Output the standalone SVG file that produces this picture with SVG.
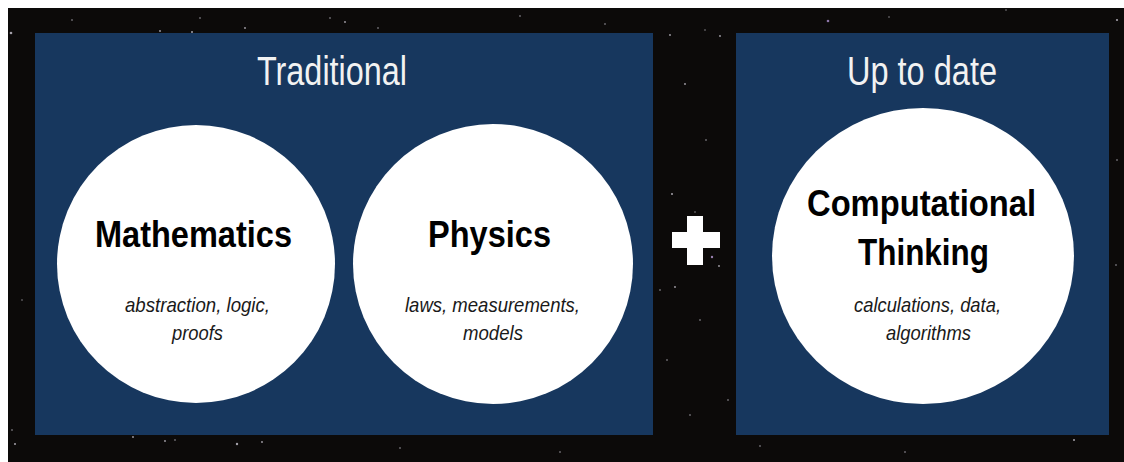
<svg xmlns="http://www.w3.org/2000/svg" width="1124" height="462" viewBox="0 0 1124 462">
  <style>
    .panel { fill: #17375e; }
    .circle { fill: #ffffff; }
    .head { font-family: "Liberation Sans", Arial, sans-serif; font-size: 40px; fill: #f2f2f2; text-anchor: middle; }
    .title { font-family: "Liberation Sans", Arial, sans-serif; font-size: 37px; font-weight: bold; fill: #000000; text-anchor: middle; }
    .sub { font-family: "Liberation Sans", Arial, sans-serif; font-size: 21px; font-style: italic; fill: #1a1a1a; text-anchor: middle; }
    .star { fill: #d8d4e0; }
  </style>
  <rect x="0" y="0" width="1124" height="462" fill="#ffffff"/>
  <rect x="8" y="8" width="1116" height="454" fill="#0c0a09"/>
  <g id="stars" opacity="0.75">
    <circle class="star" cx="11" cy="33" r="1.3"/>
    <circle class="star" cx="72" cy="20" r="0.8"/>
    <circle class="star" cx="160" cy="31" r="0.9"/>
    <circle class="star" cx="192" cy="32" r="1"/>
    <circle class="star" cx="200" cy="18" r="0.8"/>
    <circle class="star" cx="245" cy="28" r="0.9"/>
    <circle class="star" cx="330" cy="18" r="0.8"/>
    <circle class="star" cx="345" cy="22" r="0.9"/>
    <circle class="star" cx="378" cy="28" r="0.8"/>
    <circle class="star" cx="520" cy="16" r="0.8"/>
    <circle class="star" cx="605" cy="24" r="0.8"/>
    <circle class="star" cx="670" cy="35" r="0.9"/>
    <circle class="star" cx="685" cy="84" r="0.9"/>
    <circle class="star" cx="720" cy="36" r="0.9"/>
    <circle class="star" cx="705" cy="30" r="0.7"/>
    <circle cx="828" cy="21" r="1.3" fill="#b89adf"/>
    <circle class="star" cx="889" cy="17" r="0.7"/>
    <circle class="star" cx="1006" cy="10" r="0.7"/>
    <circle class="star" cx="1117" cy="20" r="1.1"/>
    <circle class="star" cx="706" cy="140" r="0.8"/>
    <circle class="star" cx="672" cy="194" r="1"/>
    <circle class="star" cx="695" cy="212" r="0.7"/>
    <circle cx="712" cy="257" r="1.2" fill="#c8a8e8"/>
    <circle class="star" cx="719" cy="266" r="0.9"/>
    <circle class="star" cx="675" cy="287" r="0.9"/>
    <circle class="star" cx="660" cy="290" r="0.8"/>
    <circle class="star" cx="700" cy="320" r="0.8"/>
    <circle class="star" cx="667" cy="360" r="0.8"/>
    <circle class="star" cx="728" cy="400" r="0.8"/>
    <circle class="star" cx="690" cy="415" r="0.8"/>
    <circle class="star" cx="12" cy="430" r="0.8"/>
    <circle class="star" cx="15" cy="444" r="1"/>
    <circle class="star" cx="22" cy="300" r="0.7"/>
    <circle class="star" cx="133" cy="437" r="0.9"/>
    <circle class="star" cx="165" cy="441" r="0.9"/>
    <circle class="star" cx="175" cy="440" r="0.8"/>
    <circle class="star" cx="237" cy="444" r="1.2"/>
    <circle class="star" cx="262" cy="442" r="0.9"/>
    <circle class="star" cx="400" cy="448" r="0.8"/>
    <circle class="star" cx="560" cy="452" r="0.8"/>
    <circle class="star" cx="760" cy="446" r="0.8"/>
    <circle class="star" cx="905" cy="452" r="0.8"/>
    <circle class="star" cx="1074" cy="440" r="1"/>
    <circle class="star" cx="1117" cy="160" r="0.8"/>
    <circle class="star" cx="1116" cy="265" r="0.8"/>
  </g>
  <g id="panel-traditional">
    <rect class="panel" x="35" y="33" width="618" height="402"/>
    <text class="head" x="332" y="85" textLength="150" lengthAdjust="spacingAndGlyphs">Traditional</text>
  </g>
  <g id="panel-uptodate">
    <rect class="panel" x="736" y="33" width="373" height="402"/>
    <text class="head" x="922" y="85" textLength="150" lengthAdjust="spacingAndGlyphs">Up to date</text>
  </g>
  <g id="node-mathematics">
    <circle class="circle" cx="196" cy="264" r="139"/>
    <text class="title" x="193.5" y="247" textLength="197" lengthAdjust="spacingAndGlyphs">Mathematics</text>
    <text class="sub" x="197.5" y="312" textLength="145" lengthAdjust="spacingAndGlyphs">abstraction, logic,</text>
    <text class="sub" x="197.5" y="340" textLength="51" lengthAdjust="spacingAndGlyphs">proofs</text>
  </g>
  <g id="node-physics">
    <circle class="circle" cx="493" cy="264" r="140"/>
    <text class="title" x="489.5" y="247" textLength="123" lengthAdjust="spacingAndGlyphs">Physics</text>
    <text class="sub" x="492.5" y="312" textLength="175" lengthAdjust="spacingAndGlyphs">laws, measurements,</text>
    <text class="sub" x="493" y="340" textLength="60" lengthAdjust="spacingAndGlyphs">models</text>
  </g>
  <g id="node-plus">
    <rect x="687" y="216" width="16" height="49" fill="#ffffff"/>
    <rect x="672" y="232" width="48" height="16" fill="#ffffff"/>
  </g>
  <g id="node-computational">
    <ellipse class="circle" cx="923" cy="256" rx="151" ry="148"/>
    <text class="title" x="921.5" y="216" textLength="229" lengthAdjust="spacingAndGlyphs">Computational</text>
    <text class="title" x="923.5" y="265" textLength="131" lengthAdjust="spacingAndGlyphs">Thinking</text>
    <text class="sub" x="927.5" y="312" textLength="147" lengthAdjust="spacingAndGlyphs">calculations, data,</text>
    <text class="sub" x="928.5" y="340" textLength="85" lengthAdjust="spacingAndGlyphs">algorithms</text>
  </g>
  <g id="connectors"/>
</svg>
